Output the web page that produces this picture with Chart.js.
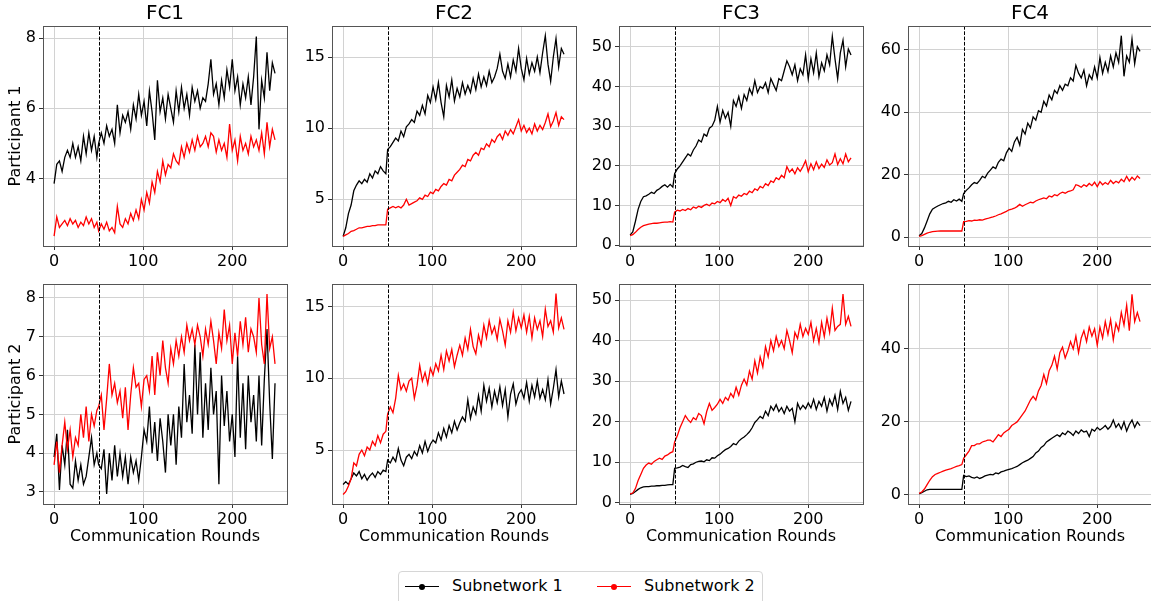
<!DOCTYPE html>
<html>
<head>
<meta charset="utf-8">
<script src="https://cdn.jsdelivr.net/npm/chart.js@4.4.1/dist/chart.umd.min.js"></script>
<style>
  body { margin: 0; width: 1151px; height: 601px; overflow: hidden; background: #fff; position: relative; font-family: 'DejaVu Sans', sans-serif; }
  canvas { position: absolute; }
  #legend { position: absolute; left: 398px; top: 571px; width: 365px; height: 34px; border: 1px solid #d6d6d6; border-radius: 4px; box-sizing: border-box; }
  #legend .mark { position: absolute; top: 14px; width: 34px; height: 1.2px; }
  #legend .mark i { position: absolute; left: 14px; top: -2.4px; width: 6px; height: 6px; border-radius: 50%; }
  #legend .txt { position: absolute; top: 4px; font-size: 16px; line-height: 20px; color: #000; white-space: nowrap; }
</style>
</head>
<body>
<div id="legend">
  <div class="mark" style="left:6px;background:#000"><i style="background:#000"></i></div>
  <span class="txt" style="left:53px">Subnetwork 1</span>
  <div class="mark" style="left:198px;background:#f00"><i style="background:#f00"></i></div>
  <span class="txt" style="left:245px">Subnetwork 2</span>
</div>
<script>
// communication rounds (every 3rd round, plus round 50 for the jump)
const rounds = [0,3,6,9,12,15,18,21,24,27,30,33,36,39,42,45,48,
  50,53,56,59,62,65,68,71,74,77, 80,83,86,89,92,95,98,101,104,107,
  110,113,116,119,122,125,128,131,134,137, 140,143,146,149,152,155,158,161,164,167,
  170,173,176,179,182,185,188,191,194,197, 200,203,206,209,212,215,218,221,224,227,
  230,233,236,239,242,245,248];
const splitRound = 50;
const xTicks = [0, 100, 200];
const panelTitles = ['FC1', 'FC2', 'FC3', 'FC4'];
const rowLabels = ['Participant 1', 'Participant 2'];
const seriesNames = ['Subnetwork 1', 'Subnetwork 2'];

// Participant 1
const p1fc1Sub1 = [3.85,4.4,4.5,4.2,4.6,4.8,4.6,5.0,4.6,4.9,4.5,5.2,4.7,5.3,4.8,5.2,4.6,
  5.0,5.3,5.0,5.5,5.2,5.4,5.0,6.1,5.3,5.8, 5.6,5.9,5.4,6.1,5.7,6.4,5.8,6.2,5.5,6.5,
  5.9,5.1,6.8,5.9,6.3,5.7,6.4,6.0,5.6,6.5, 5.9,6.6,6.0,6.4,5.8,6.6,6.2,6.5,6.0,6.3,
  6.2,6.7,7.4,6.4,6.7,6.1,6.8,6.3,7.1,6.6, 7.4,6.5,6.9,6.1,6.7,6.3,6.9,6.1,6.9,8.05,
  5.4,6.8,6.3,7.6,6.5,7.3,7.0];
const p1fc1Sub2 = [2.35,2.9,2.6,2.7,2.8,2.65,2.85,2.7,2.8,2.6,2.75,2.65,2.9,2.7,2.85,2.6,2.75,
  2.5,2.7,2.55,2.75,2.5,2.6,2.45,3.2,2.7,2.6, 2.85,2.7,3.0,2.8,3.1,2.85,3.4,3.1,3.6,3.3,
  3.9,3.6,4.2,3.9,4.5,4.1,4.4,4.3,4.7,4.5, 4.4,4.9,4.6,5.0,4.75,5.1,4.8,5.2,4.9,5.0,
  5.2,4.9,5.3,5.2,4.75,5.1,4.8,5.0,4.6,5.55, 4.8,5.1,4.5,5.2,4.8,5.0,4.7,5.2,4.9,5.1,
  4.8,5.3,4.7,5.6,4.9,5.4,5.1];
const p1fc2Sub1 = [2.4,3.0,4.0,4.6,5.6,6.0,6.3,6.1,6.4,6.2,6.8,6.5,7.0,6.8,7.3,7.0,6.8,
  8.5,8.7,9.0,9.3,9.1,9.8,9.4,10.1,10.3,10.6, 10.4,11.2,10.9,11.6,11.0,12.3,11.8,12.9,12.0,13.2,
  11.8,10.8,13.0,12.2,13.4,11.9,12.8,12.2,13.2,12.4, 13.0,12.5,13.5,12.7,13.8,12.9,13.6,13.0,14.0,13.2,
  13.6,14.2,15.2,14.0,13.5,14.5,13.6,14.8,14.0,15.6, 14.2,13.4,14.9,13.8,14.6,14.0,15.0,13.9,15.3,16.5,
  14.5,13.3,15.0,16.3,14.3,15.6,15.2];
const p1fc2Sub2 = [2.4,2.5,2.6,2.75,2.8,2.9,3.0,3.0,3.05,3.1,3.1,3.15,3.15,3.2,3.2,3.2,3.2,
  4.3,4.4,4.5,4.4,4.5,4.4,4.6,5.0,4.6,4.7, 4.8,4.9,5.1,5.0,5.3,5.2,5.5,5.4,5.7,5.6,
  5.9,6.1,6.0,6.4,6.3,6.7,6.9,7.1,7.4,7.3, 7.8,7.7,8.1,8.3,8.1,8.6,8.5,8.9,8.7,9.2,
  9.0,9.4,9.6,9.2,9.8,9.5,9.9,9.6,10.1,10.6, 9.8,10.2,9.7,10.0,9.6,10.3,9.8,10.2,9.9,10.4,
  11.0,10.1,10.5,11.1,10.2,10.8,10.6];
const p1fc3Sub1 = [2.5,3.3,6.0,9.0,11.0,12.2,12.4,12.8,13.3,13.0,13.8,14.2,14.8,15.2,14.6,15.3,14.6,
  18.0,19.2,20.0,21.0,22.0,23.0,22.5,24.0,25.0,26.5, 26.0,28.0,27.5,29.5,30.0,31.5,35.0,31.0,34.0,32.0,
  33.5,30.0,36.5,35.0,37.5,34.5,38.0,36.5,39.5,38.0, 41.5,38.5,40.0,39.5,41.0,38.5,42.0,40.5,39.0,42.0,
  41.5,44.0,46.5,45.0,43.0,45.5,41.5,44.5,43.0,48.0, 42.0,47.0,43.5,48.5,42.5,46.0,44.0,48.0,45.5,52.7,
  47.0,42.0,48.5,51.7,45.0,49.5,48.0];
const p1fc3Sub2 = [2.4,2.6,3.2,3.9,4.5,4.9,5.1,5.3,5.4,5.5,5.5,5.6,5.7,5.8,5.8,5.9,5.8,
  8.3,8.8,8.6,9.0,8.7,9.2,8.9,9.6,9.3,9.8, 9.5,10.0,10.3,9.9,10.6,10.4,11.0,10.7,11.5,11.0,
  11.8,10.0,12.2,11.8,12.6,12.3,13.0,12.7,13.6,13.2, 14.2,13.8,14.8,14.4,15.5,15.0,16.2,15.8,17.0,16.5,
  17.6,17.0,19.8,18.4,19.2,18.0,19.5,18.6,19.8,21.3, 18.5,20.5,19.0,21.0,19.3,20.4,19.6,21.5,20.2,20.8,
  23.0,20.3,21.8,20.5,23.0,21.0,22.0];
const p1fc4Sub1 = [0.5,1.2,3.0,5.2,7.5,9.0,9.5,10.0,10.4,10.8,11.0,11.5,11.2,12.0,11.6,12.2,11.5,
  14.0,15.0,15.8,16.8,17.5,17.2,18.2,19.5,19.0,20.5, 21.5,22.5,22.0,24.0,25.0,24.5,27.0,28.5,27.5,30.5,
  32.0,29.5,34.5,33.0,36.5,35.0,38.5,37.5,40.5,40.0, 43.5,42.0,45.5,44.0,47.0,46.0,48.5,47.0,49.0,48.5,
  51.0,50.0,55.0,52.5,51.0,53.5,48.5,52.0,50.5,54.5, 51.0,57.5,52.5,56.0,53.0,58.0,54.5,59.0,56.0,64.5,
  51.5,58.0,56.0,63.5,55.5,61.0,59.5];
const p1fc4Sub2 = [0.3,0.5,0.9,1.3,1.6,1.8,1.9,1.95,2.0,2.0,2.0,2.0,2.0,2.0,2.0,2.0,2.0,
  5.0,5.1,5.3,5.2,5.5,5.4,5.6,5.5,5.8,6.0, 6.3,6.5,6.8,7.2,7.5,7.9,8.3,8.8,9.0,9.3,
  9.8,10.5,9.9,10.4,10.8,11.2,11.0,11.6,12.0,12.3, 12.6,12.3,13.2,12.9,13.6,13.3,14.0,14.4,14.1,14.6,
  14.8,15.2,16.8,16.5,16.0,16.8,16.3,17.2,16.5,17.6, 16.2,17.8,16.8,17.5,16.9,18.2,17.2,17.9,17.4,18.6,
  17.8,19.5,18.0,19.2,18.3,19.6,18.8];

// Participant 2
const p2fc1Sub1 = [3.9,4.5,3.05,4.2,3.7,4.6,3.2,3.1,3.8,3.3,3.7,3.2,3.4,3.9,4.4,3.7,4.0,
  3.7,3.6,4.1,2.95,4.0,3.3,4.2,3.4,4.0,3.4, 3.9,3.2,3.9,3.5,3.8,3.3,3.9,4.6,4.3,5.2,
  4.0,4.8,3.8,4.9,4.3,3.5,5.0,4.2,5.0,3.7, 5.2,4.4,6.3,4.8,5.5,4.5,6.8,5.0,6.6,4.4,
  5.8,4.6,6.2,5.0,5.6,3.2,6.0,4.7,5.6,4.3, 5.0,3.9,6.5,4.4,5.8,4.1,6.0,4.8,5.5,4.3,
  6.0,4.2,5.9,7.2,5.3,3.85,5.8];
const p2fc1Sub2 = [3.7,4.3,3.5,4.2,4.8,4.1,4.6,3.9,4.4,4.2,5.0,4.4,5.2,4.3,5.0,4.7,5.1,
  5.2,5.5,4.6,5.4,6.3,5.5,5.8,5.3,5.6,4.9, 5.7,4.6,5.5,6.2,5.7,5.8,5.2,5.9,6.0,5.6,
  6.5,5.5,6.6,6.0,6.9,6.2,5.8,6.7,6.3,6.9, 6.5,7.0,6.6,7.3,6.9,7.2,6.8,7.3,7.0,6.5,
  7.2,6.8,7.4,6.9,6.3,7.1,6.7,7.7,6.9,7.3, 6.3,7.1,6.5,7.4,6.8,7.5,6.6,7.2,7.0,6.6,
  8.0,6.8,6.3,8.1,6.7,7.0,6.3];
const p2fc2Sub1 = [2.6,2.8,2.6,3.0,3.4,3.2,3.5,3.0,3.3,2.9,3.2,3.4,3.1,3.5,3.3,3.6,3.5,
  4.3,4.1,4.5,4.2,5.1,4.3,3.9,4.5,4.7,4.4, 4.9,4.6,5.3,4.8,5.6,4.9,5.4,5.7,5.5,6.2,
  5.7,6.5,5.9,6.7,6.2,7.0,6.4,6.9,7.3,7.0, 8.5,7.2,8.0,7.5,8.8,7.7,9.5,8.4,9.3,8.0,
  9.1,8.3,9.4,8.1,9.2,7.3,8.9,9.6,8.2,8.9, 9.2,8.6,9.7,8.4,9.5,8.7,9.8,8.6,9.2,8.5,
  9.9,8.2,9.3,10.6,8.7,9.8,8.9];
const p2fc2Sub2 = [1.9,2.1,2.5,3.0,4.1,3.9,4.7,5.0,4.6,5.2,5.0,5.6,5.3,6.0,5.5,6.1,6.3,
  7.5,8.0,7.6,8.6,10.2,9.2,9.6,9.1,9.8,10.0, 8.6,9.5,10.9,9.8,10.4,9.6,10.7,10.2,11.0,10.5,
  11.6,10.6,11.9,11.2,12.0,10.8,11.6,12.3,11.6,12.8, 12.0,13.4,12.2,11.7,13.0,12.3,13.7,12.8,14.0,13.1,
  13.6,12.7,14.1,13.3,12.3,14.0,13.2,14.6,13.3,14.2, 13.5,14.4,13.2,14.3,12.8,14.2,13.4,14.0,12.9,14.8,
  13.6,14.0,13.2,15.9,13.5,14.2,13.4];
const p2fc3Sub1 = [2.1,2.3,2.8,3.3,3.7,3.9,4.0,4.0,4.1,4.1,4.2,4.2,4.3,4.3,4.4,4.5,4.5,
  8.5,8.6,8.8,9.2,8.9,8.7,9.4,9.6,10.0,10.2, 10.3,10.1,10.6,10.4,11.1,11.0,11.6,12.0,12.6,13.1,
  13.4,13.9,14.6,14.3,15.2,15.8,16.2,16.8,17.5,18.5, 19.8,20.5,21.3,20.8,22.6,21.5,23.8,22.8,24.2,22.5,
  23.5,22.0,23.8,22.6,23.3,20.0,24.5,23.0,24.0,23.2, 24.6,23.4,25.5,23.0,25.0,23.8,26.0,22.6,25.5,24.0,
  26.5,23.0,27.5,24.5,26.0,22.8,25.0];
const p2fc3Sub2 = [2.2,2.4,3.5,5.5,7.0,8.5,9.3,9.8,9.5,10.2,10.6,11.0,10.7,11.5,11.8,12.3,12.6,
  15.0,16.5,18.5,20.0,21.5,20.5,19.8,21.0,20.5,22.0, 21.5,19.5,22.5,24.5,22.8,23.5,24.3,25.5,24.5,26.0,
  25.3,27.0,26.0,28.5,26.5,29.0,30.5,29.0,32.5,30.5, 35.0,32.0,36.0,33.5,38.5,36.0,40.0,37.5,41.0,38.5,
  40.0,38.0,42.5,40.0,37.0,42.0,40.5,44.0,41.0,43.0, 41.5,44.5,40.0,43.0,39.5,44.5,41.0,45.5,42.0,48.0,
  42.5,43.5,44.0,51.5,44.0,46.0,43.5];
const p2fc4Sub1 = [0.3,0.6,1.0,1.4,1.5,1.5,1.5,1.5,1.5,1.5,1.5,1.5,1.5,1.5,1.5,1.5,1.5,
  5.3,5.0,5.2,4.8,4.6,4.9,4.5,4.8,5.2,5.4, 5.6,5.5,6.0,5.8,6.3,6.5,6.8,7.0,7.2,7.5,
  7.8,8.3,8.8,9.2,9.5,10.0,10.5,11.5,12.0,13.0, 13.5,14.5,15.0,15.5,16.0,16.5,16.0,17.0,16.5,17.5,
  17.0,16.3,17.5,16.8,17.8,17.2,17.5,16.0,18.0,17.5, 18.5,17.8,18.3,19.0,18.0,18.8,20.5,18.5,19.5,18.0,
  20.0,17.5,19.3,20.5,18.5,20.0,19.0];
const p2fc4Sub2 = [0.4,0.8,1.6,2.8,4.0,5.0,5.6,5.9,6.2,6.5,6.8,7.0,7.2,7.5,7.8,8.0,8.3,
  10.0,11.0,12.0,13.5,13.5,14.0,14.0,14.5,14.7,15.0, 15.0,14.5,15.5,16.5,16.0,17.0,17.5,18.0,19.0,19.5,
  20.0,21.0,22.0,23.0,24.5,26.0,27.0,26.0,28.5,30.0, 33.0,30.5,34.0,35.5,38.0,34.5,39.0,40.5,37.5,39.5,
  42.0,40.0,43.5,39.0,43.0,45.0,42.0,46.0,43.5,45.5, 41.0,46.0,43.0,47.5,44.0,48.0,42.5,47.0,45.0,50.0,
  46.5,52.0,45.0,55.0,47.5,50.0,47.5];

const panelSeries = [
  [p1fc1Sub1, p1fc1Sub2], [p1fc2Sub1, p1fc2Sub2], [p1fc3Sub1, p1fc3Sub2], [p1fc4Sub1, p1fc4Sub2],
  [p2fc1Sub1, p2fc1Sub2], [p2fc2Sub1, p2fc2Sub2], [p2fc3Sub1, p2fc3Sub2], [p2fc4Sub1, p2fc4Sub2]
];
const yLimits = [[2.07, 8.35], [1.72, 17.18], [-0.25, 55.3], [-2.8, 67.6],
                 [2.69, 8.36], [1.24, 16.56], [-0.3, 53.95], [-2.5, 57.8]];
const yTickValues = [[4, 6, 8], [5, 10, 15], [0, 10, 20, 30, 40, 50], [0, 20, 40, 60],
                     [3, 4, 5, 6, 7, 8], [5, 10, 15], [0, 10, 20, 30, 40, 50], [0, 20, 40]];
const xLimits = [-12.45, 261.45];

// page layout of the plot frames
const frameLeft = [43, 332, 619, 908];
const frameTop = [26, 284];
const frameW = 244, frameH = 220;
const padL = 43, padT = 26, padR = 6, padB = 52;

const colors = ['#000000', '#ff0000'];

const panelDecor = {
  id: 'panelDecor',
  afterDatasetsDraw(chart) {
    const { ctx, chartArea: a, scales } = chart;
    const px = Math.round(scales.x.getPixelForValue(splitRound)) + 0.5;
    ctx.save();
    ctx.lineWidth = 1;
    ctx.strokeStyle = '#000';
    ctx.setLineDash([3.7, 1.6]);
    ctx.beginPath();
    ctx.moveTo(px, a.top);
    ctx.lineTo(px, a.bottom);
    ctx.stroke();
    ctx.setLineDash([]);
    ctx.strokeStyle = '#555';
    ctx.strokeRect(a.left + 0.5, a.top + 0.5, a.width, a.height);
    ctx.restore();
  }
};

Chart.defaults.font.family = "'DejaVu Sans', sans-serif";
Chart.defaults.color = '#000';

const toPoints = vals => rounds.map((r, i) => ({ x: r, y: vals[i] }));

for (let p = 0; p < 8; p++) {
  const row = Math.floor(p / 4), col = p % 4;
  const series = panelSeries[p];
  series.forEach(s => { if (s.length !== rounds.length) console.error('length', p, s.length); });

  const cv = document.createElement('canvas');
  cv.width = frameW + padL + padR;
  cv.height = frameH + padT + padB;
  cv.style.left = (frameLeft[col] - padL) + 'px';
  cv.style.top = (frameTop[row] - padT) + 'px';
  document.body.appendChild(cv);

  new Chart(cv, {
    type: 'line',
    data: {
      datasets: series.map((s, k) => ({
        label: seriesNames[k],
        data: toPoints(s),
        borderColor: colors[k],
        borderWidth: 1.3,
        pointRadius: 0,
        tension: 0,
        fill: false,
        order: 1 - k
      }))
    },
    options: {
      responsive: false,
      animation: false,
      devicePixelRatio: 1,
      events: [],
      layout: { padding: { top: row === 0 ? 0 : padT, right: padR, left: 0, bottom: 0 } },
      plugins: {
        legend: { display: false },
        tooltip: { enabled: false },
        title: {
          display: row === 0,
          text: panelTitles[col],
          fullSize: false,
          color: '#000',
          font: { size: 20, weight: 'normal', lineHeight: 1 },
          padding: { top: 4, bottom: 2 }
        }
      },
      scales: {
        x: {
          type: 'linear',
          min: xLimits[0],
          max: xLimits[1],
          afterBuildTicks: s => { s.ticks = xTicks.map(v => ({ value: v })); },
          afterFit: s => { s.height = padB; },
          border: { display: false },
          grid: { color: '#d2d2d2', lineWidth: 1, tickColor: '#333', tickLength: 4 },
          ticks: { color: '#000', font: { size: 16 }, padding: 2, maxRotation: 0, autoSkip: false },
          title: {
            display: row === 1,
            text: 'Communication Rounds',
            color: '#000',
            font: { size: 16 },
            padding: { top: 0, bottom: 10 }
          }
        },
        y: {
          type: 'linear',
          min: yLimits[p][0],
          max: yLimits[p][1],
          afterBuildTicks: s => { s.ticks = yTickValues[p].map(v => ({ value: v })); },
          afterFit: s => { s.width = padL; },
          border: { display: false },
          grid: { color: '#d2d2d2', lineWidth: 1, tickColor: '#333', tickLength: 4 },
          ticks: { color: '#000', font: { size: 16 }, padding: 3, autoSkip: false },
          title: {
            display: col === 0,
            text: rowLabels[row],
            color: '#000',
            font: { size: 16 },
            padding: { top: 6, bottom: 0 }
          }
        }
      }
    },
    plugins: [panelDecor]
  });
}
</script>
</body>
</html>
